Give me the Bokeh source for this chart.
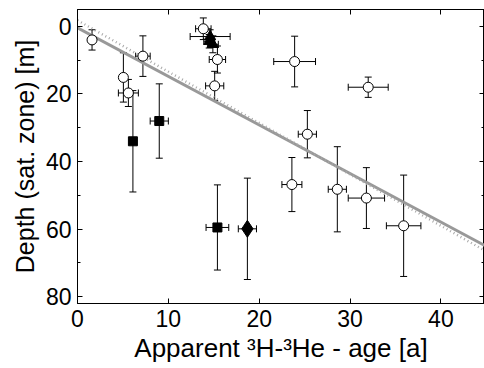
from bokeh.plotting import figure
from bokeh.models import (ColumnDataSource, Whisker, TeeHead, Range1d, LinearAxis,
                          FixedTicker, SingleIntervalTicker, CustomJSTickFormatter)
from bokeh.embed import file_html
from bokeh.resources import INLINE

# ---- data ----
# open circles
circ_x = [1.6, 5.05, 5.6, 7.2, 13.85, 15.4, 15.1, 23.9, 32.0, 25.3, 23.6, 28.6, 31.8, 35.9]
circ_y = [4.0, 15.1, 19.7, 8.8, 0.7, 9.8, 17.6, 10.4, 18.0, 31.9, 46.8, 48.2, 50.8, 59.0]
circ_xerr = [0.2, 0.2, 1.1, 0.8, 0.85, 0.9, 1.0, 2.3, 2.2, 1.0, 1.1, 1.0, 2.0, 1.9]
circ_yerr = [3.0, 7.3, 4.0, 6.0, 3.2, 4.0, 4.3, 7.5, 3.0, 7.0, 8.0, 12.6, 9.0, 15.0]
# filled squares
sq_x = [6.1, 9.0, 15.4]
sq_y = [34.0, 28.0, 59.5]
sq_xerr = [0.4, 1.0, 1.25]
sq_yerr = [15.0, 11.0, 12.6]
# filled triangles
tri_x = [14.6, 14.5, 14.9]
tri_y = [3.0, 4.4, 5.3]
tri_xerr = [2.2, 0.6, 0.6]
tri_yerr = [2.0, 2.0, 2.5]
# filled diamond
dia_x = [18.7]
dia_y = [59.9]
dia_xerr = [1.0]
dia_yerr = [15.0]
# regression lines (end points)
fit_x = [0, 45]
fit_solid_y = [0.4, 65.1]
fit_dotted_y = [-1.8, 66.6]

x_ticks = [0, 10, 20, 30, 40]

FONT = "Liberation Sans"

p = figure(width=484, height=368, output_backend="svg", toolbar_location=None,
           x_range=Range1d(0, 44.8), y_range=Range1d(82, -5),
           min_border_left=77, min_border_right=0, min_border_top=9, min_border_bottom=65)
p.background_fill_color = "white"
p.border_fill_color = "white"
p.grid.visible = False
p.outline_line_color = "black"
p.outline_line_width = 1

# lines
p.line(fit_x, fit_solid_y, line_color="#999999", line_width=3)
p.line(fit_x, fit_dotted_y, line_color="#a8a8a8", line_width=2.5, line_dash="1 3")


def add_series(xs, ys, xe, ye):
    src = ColumnDataSource(dict(
        x=xs, y=ys,
        xl=[a - b for a, b in zip(xs, xe)], xu=[a + b for a, b in zip(xs, xe)],
        yl=[a - b for a, b in zip(ys, ye)], yu=[a + b for a, b in zip(ys, ye)],
    ))
    for dim, base, lo, up in (("height", "x", "yl", "yu"), ("width", "y", "xl", "xu")):
        w = Whisker(source=src, base=base, lower=lo, upper=up, dimension=dim,
                    line_color="black", line_width=1,
                    upper_head=TeeHead(size=7, line_color="black", line_width=1),
                    lower_head=TeeHead(size=7, line_color="black", line_width=1))
        p.add_layout(w)
    return src


s_c = add_series(circ_x, circ_y, circ_xerr, circ_yerr)
s_s = add_series(sq_x, sq_y, sq_xerr, sq_yerr)
s_t = add_series(tri_x, tri_y, tri_xerr, tri_yerr)
s_d = add_series(dia_x, dia_y, dia_xerr, dia_yerr)

p.scatter("x", "y", source=s_c, marker="circle", size=10, fill_color="white",
          line_color="black", line_width=1)
p.scatter("x", "y", source=s_s, marker="square", size=9, fill_color="black",
          line_color="black")
p.scatter("x", "y", source=s_t, marker="triangle", size=11, fill_color="black",
          line_color="black")
p.scatter("x", "y", source=s_d, marker="diamond", size=17, fill_color="black",
          line_color="black")

# axes
p.xaxis.ticker = FixedTicker(ticks=x_ticks)
p.yaxis.ticker = SingleIntervalTicker(interval=20, num_minor_ticks=2)
p.xaxis.axis_label = "Apparent \u00b3H-\u00b3He - age [a]"
p.yaxis.axis_label = "Depth (sat. zone) [m]"
for ax in (p.xaxis[0], p.yaxis[0]):
    ax.major_label_text_font = FONT
    ax.major_label_text_font_size = "23px"
    ax.major_label_text_color = "black"
    ax.axis_label_text_font = FONT
    ax.axis_label_text_font_size = "25px"
    ax.axis_label_text_font_style = "normal"
    ax.axis_label_text_color = "black"
    ax.axis_line_color = "black"
    ax.major_tick_line_color = "black"
    ax.minor_tick_line_color = "black"
    ax.major_tick_in = 5
    ax.major_tick_out = 0
    ax.minor_tick_in = 3
    ax.minor_tick_out = 0
p.xaxis.minor_tick_line_color = None
p.xaxis.axis_label_text_font_size = "26px"
p.xaxis.major_label_standoff = 6
p.xaxis.axis_label_standoff = 3
p.yaxis.major_label_standoff = 6
p.yaxis.axis_label_standoff = 4

# mirror axes (ticks only, no labels)
blank = CustomJSTickFormatter(code="return ''")
top = LinearAxis(ticker=FixedTicker(ticks=x_ticks), formatter=blank)
right = LinearAxis(ticker=SingleIntervalTicker(interval=20, num_minor_ticks=2),
                   formatter=CustomJSTickFormatter(code="return ''"))
for ax in (top, right):
    ax.major_label_standoff = 0
    ax.axis_line_color = "black"
    ax.major_tick_line_color = "black"
    ax.minor_tick_line_color = "black"
    ax.major_tick_in = 5
    ax.major_tick_out = 0
    ax.minor_tick_in = 3
    ax.minor_tick_out = 0
top.minor_tick_line_color = None
p.add_layout(top, "above")
p.add_layout(right, "right")

open("out.html", "w").write(file_html(p, INLINE))
